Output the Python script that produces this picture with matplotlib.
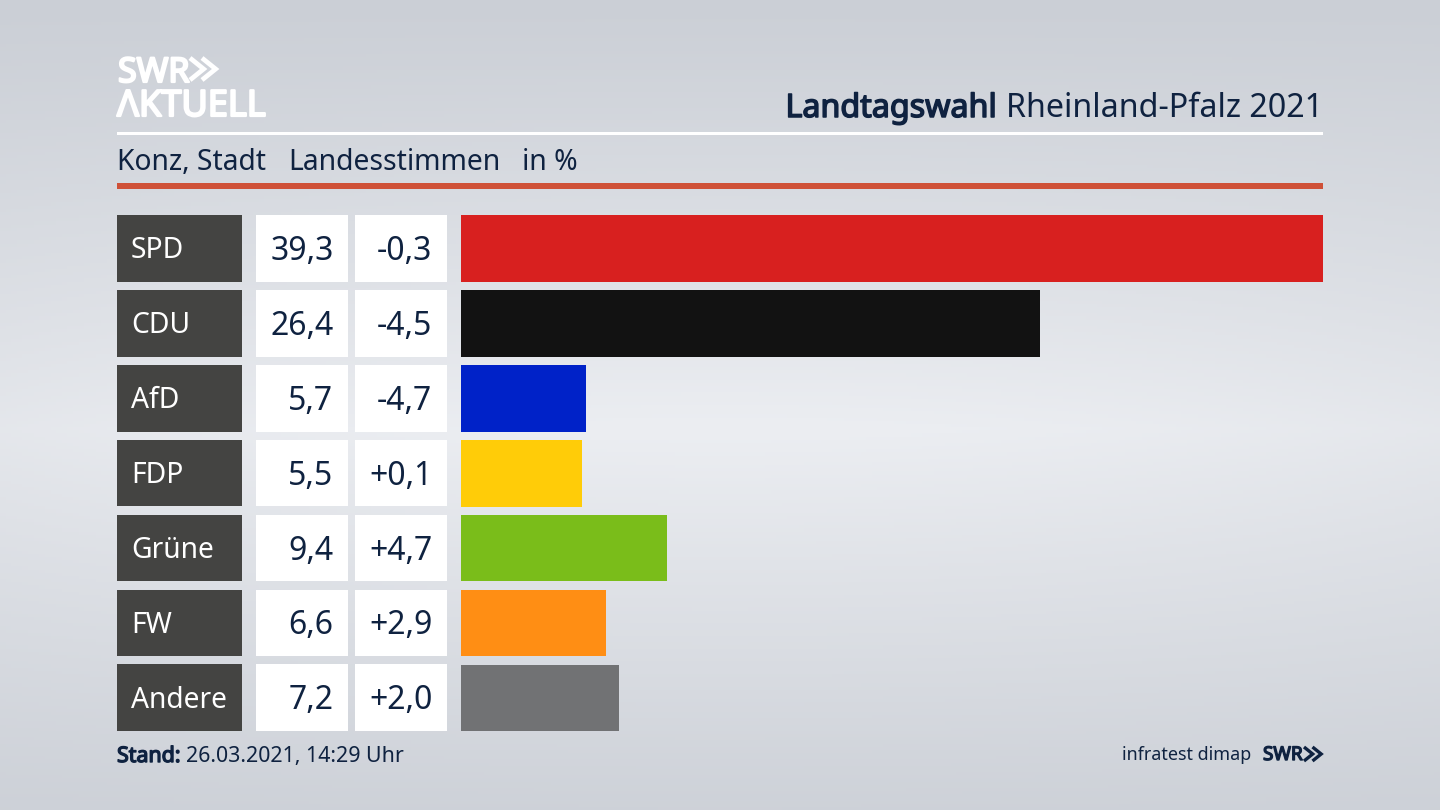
import numpy as np
import matplotlib
matplotlib.use("Agg")
import matplotlib.pyplot as plt
import matplotlib.patheffects as pe
from matplotlib.patches import Rectangle

parties = ["SPD", "CDU", "AfD", "FDP", "Grüne", "FW", "Andere"]
shares = [39.3, 26.4, 5.7, 5.5, 9.4, 6.6, 7.2]
changes = ["-0,3", "-4,5", "-4,7", "+0,1", "+4,7", "+2,9", "+2,0"]
share_labels = ["39,3", "26,4", "5,7", "5,5", "9,4", "6,6", "7,2"]
colors = ["#d8201f", "#121212", "#0022c8", "#ffcc08", "#7abd1a", "#ff8e14", "#717274"]

W, H = 1440, 810
NAVY = "#0f2240"
FONT = "Noto Sans"
plt.rcParams["font.family"] = [FONT, "DejaVu Sans"]

fig = plt.figure(figsize=(W / 100, H / 100), dpi=100)
bg = fig.add_axes([0, 0, 1, 1])
bg.set_xlim(0, W)
bg.set_ylim(H, 0)
bg.axis("off")

# background gradient
yy = np.linspace(0, 1, 256)[:, None]
xx = np.linspace(-1, 1, 256)[None, :]
t = np.clip(1 - np.abs(yy - 0.53) / 0.53, 0, 1) ** 1.1
t = t * (1 - 0.22 * xx ** 2)
top = np.array([0xcb, 0xcf, 0xd6]) / 255
mid = np.array([0xec, 0xee, 0xf2]) / 255
img = top[None, None, :] + t[:, :, None] * (mid - top)[None, None, :]
bg.imshow(img, extent=[0, W, H, 0], aspect="auto", zorder=0)


def rect(x0, y0, x1, y1, c):
    bg.add_patch(Rectangle((x0, y0), x1 - x0, y1 - y0, fc=c, ec="none", zorder=1))


def heavy(color, w):
    return [pe.withStroke(linewidth=w, foreground=color)]


def chevrons(x, yc, h, gap, lw, color):
    for k in range(2):
        x0 = x + k * gap
        bg.plot([x0, x0 + h * 0.62, x0], [yc - h / 2, yc, yc + h / 2], color=color, lw=lw,
                solid_joinstyle="miter", solid_capstyle="butt", zorder=2)


# header
rect(117, 132, 1323, 135, "white")
rect(117, 183, 1323, 189, "#cf5138")
bg.text(118, 82, "SWR", color="white", fontsize=24.5, va="baseline", ha="left", zorder=2,
        path_effects=heavy("white", 1.6))
chevrons(190, 69, 22, 12, 3.4, "white")
bg.text(117, 116, "ΛKTUELL", color="white", fontsize=26, va="baseline", ha="left", zorder=2,
        path_effects=heavy("white", 1.6))
bg.text(1323, 117, "Rheinland-Pfalz 2021", color=NAVY, fontsize=23.2, va="baseline", ha="right", zorder=2)
bg.text(997, 117, "Landtagswahl", color=NAVY, fontsize=23.2, va="baseline", ha="right", zorder=2,
        path_effects=heavy(NAVY, 1.1))
bg.text(117, 170, "Konz, Stadt", color=NAVY, fontsize=20.3, va="baseline", zorder=2)
bg.text(288, 170, "Landesstimmen", color=NAVY, fontsize=20.4, va="baseline", zorder=2)
bg.text(522, 170, "in %", color=NAVY, fontsize=20.4, va="baseline", zorder=2)

# table cells
PITCH = 74.9
for i, p in enumerate(parties):
    y0 = 215 + i * PITCH
    y1 = y0 + 66.7
    yc = y0 + 43.5
    rect(117, y0, 241.5, y1, "#444442")
    rect(256, y0, 348, y1, "white")
    rect(355, y0, 447, y1, "white")
    bg.text(131, yc, p, color="white", fontsize=20.3, va="baseline", ha="left", zorder=2)
    bg.text(333.5, yc + 1.5, share_labels[i], color=NAVY, fontsize=23, va="baseline", ha="right", zorder=2)
    bg.text(432.5, yc + 1.5, changes[i], color=NAVY, fontsize=23, va="baseline", ha="right", zorder=2)

# bars
ax = fig.add_axes([461 / W, 1 - 731.5 / H, 862 / W, 516.5 / H])
ax.patch.set_alpha(0)
ax.barh(range(len(parties)), shares, height=0.89, color=colors)
ax.set_xlim(0, max(shares))
ax.set_ylim(6.4487, -0.4473)
ax.axis("off")

# footer
bg.text(117, 762, "Stand:", color=NAVY, fontsize=15.4, va="baseline", zorder=2,
        path_effects=heavy(NAVY, 1.0))
bg.text(186, 762, "26.03.2021, 14:29 Uhr", color=NAVY, fontsize=15.4, va="baseline", zorder=2)
bg.text(1251, 760, "infratest dimap", color=NAVY, fontsize=12.9, va="baseline", ha="right", zorder=2)
bg.text(1263, 760, "SWR", color=NAVY, fontsize=13.6, va="baseline", ha="left", zorder=2,
        path_effects=heavy(NAVY, 1.0))
chevrons(1304, 754, 14, 8.5, 2.4, NAVY)

fig.savefig("out.png", dpi=100)
